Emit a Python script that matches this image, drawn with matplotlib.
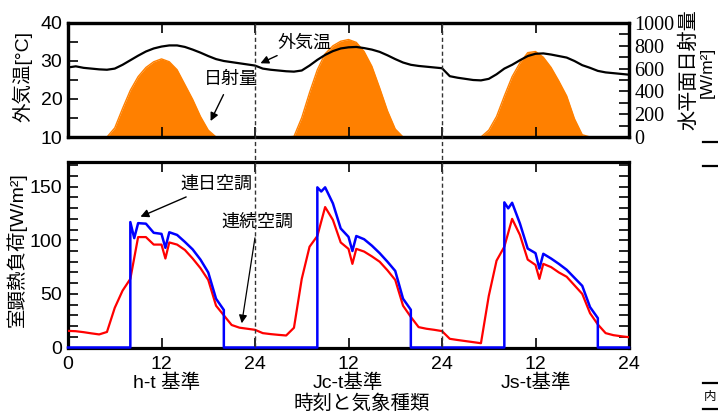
"""Outside temperature, solar radiation and room sensible load, three weather sets."""
import numpy as np
import matplotlib
matplotlib.use("Agg")
import matplotlib.pyplot as plt
import matplotlib.transforms as mtransforms
from matplotlib.lines import Line2D
from matplotlib.ticker import MultipleLocator

plt.rcParams['font.family'] = ['Liberation Sans', 'Noto Sans CJK JP', 'DejaVu Sans']

W, H = 718, 417

# hourly, 0..72 h (three 24 h weather sets side by side)
HOURS = np.arange(73)
TEMP = [28.3, 28.6, 28.2, 28.0, 27.8, 27.7, 28.0, 29.0, 30.2, 31.4, 32.5, 33.3,
        33.8, 34.1, 34.1, 33.7, 33.0, 32.2, 31.3, 30.5, 30.0, 29.7, 29.4, 29.1,
        28.8, 28.0, 27.7, 27.5, 27.3, 27.2, 27.5, 28.8, 30.3, 31.6, 32.6, 33.3,
        33.6, 33.7, 33.4, 33.0, 32.4, 31.5, 30.5, 29.6, 29.0, 28.7, 28.5, 28.3,
        28.1, 26.0, 25.6, 25.3, 25.0, 24.9, 25.3, 26.5, 28.0, 29.0, 30.2, 31.3,
        31.9, 32.0, 31.7, 31.3, 30.9, 30.0, 28.9, 28.2, 27.4, 27.0, 26.8, 26.6,
        26.4]
SOLAR = [0, 0, 0, 0, 0, 0, 80, 250, 410, 530, 610, 660,
         685, 660, 590, 460, 330, 180, 60, 0, 0, 0, 0, 0,
         0, 0, 0, 0, 0, 5, 170, 390, 590, 730, 800, 840,
         855, 830, 750, 620, 430, 230, 70, 0, 0, 0, 0, 0,
         0, 0, 0, 0, 0, 0, 60, 180, 360, 530, 650, 740,
         750, 700, 610, 490, 360, 160, 20, 0, 0, 0, 0, 0,
         0]

# continuous air conditioning (連続空調)
CONT_H = [0, 1, 2, 3, 4, 5, 6, 7, 8, 9, 10, 11, 12, 12.5, 13, 14, 15, 16, 17,
          18, 19, 20, 21, 22, 23, 24, 25, 26, 27, 28, 29, 30, 31, 32, 33, 34,
          35, 36, 36.5, 37, 38, 39, 40, 41, 42, 43, 44, 45, 46, 47, 48, 49, 50,
          51, 52, 53, 54, 55, 56, 57, 58, 59, 60, 60.5, 61, 62, 63, 64, 65, 66,
          67, 68, 69, 70, 71, 72]
CONT_V = [15.5, 15.2, 14.3, 13.2, 12.2, 14.5, 37, 53, 64, 103, 103, 96, 96, 83,
          98, 96, 91, 83, 74, 63, 39, 30, 21, 18.5, 17.5, 16.5, 13.4, 12.5,
          11.8, 11.2, 18.4, 64, 94, 104, 131, 119, 98, 92, 78, 92, 89.5, 85,
          80, 72, 63, 39, 28.5, 19, 17.5, 16.5, 15.3, 8.1, 7, 6, 5, 4, 48, 81,
          94, 120, 105, 82, 77, 64, 78, 75, 70, 66, 58, 50, 32, 21.5, 13.4,
          11.5, 10.5, 9.6]

# daily air conditioning 8-20 h (連日空調)
DAILY_H = [0, 8, 8, 8.5, 9, 10, 11, 12, 12.5, 13, 14, 15, 16, 17, 18, 19, 20, 20,
           32, 32, 32.5, 33, 34, 35, 36, 36.5, 37, 38, 39, 40, 41, 42, 43, 44, 44,
           56, 56, 56.5, 57, 58, 59, 60, 60.5, 61, 62, 63, 64, 65, 66, 67, 68, 68,
           72]
DAILY_V = [0, 0, 117, 102, 116, 115.5, 107, 106, 93, 107.5, 105, 98.5, 91.5, 82,
           70, 45.5, 35, 0,
           0, 149.4, 145.5, 149.4, 134.4, 111, 103.2, 90, 104, 101, 95, 88, 80,
           71.4, 45.5, 35.2, 0,
           0, 135.4, 129.8, 135, 115.7, 92.3, 88, 73.6, 87.4, 83, 78, 72.5, 65,
           57.5, 37.7, 27.4, 0, 0]

XTICKS = [0, 12, 24, 36, 48, 60, 72]
XTICKLABELS = ['0', '12', '24', '12', '24', '12', '24']
DAY_NAMES = ['h-t 基準', 'Jc-t基準', 'Js-t基準']
DAY_CENTERS = [12.7, 35.9, 60.1]
DAY_BOUNDS = [24, 48]

ORANGE = '#FF8000'
TICK_FS = 14


def style_axes(ax):
    for sp in ax.spines.values():
        sp.set_linewidth(2.3)
    ax.tick_params(which='both', direction='in', length=7, width=1.2,
                   labelsize=TICK_FS, pad=4)


def main():
    fig = plt.figure(figsize=(W / 100, H / 100), dpi=100)
    left, width = 68 / W, (629 - 68) / W
    ax_t = fig.add_axes([left, 1 - 137 / H, width, (137 - 23) / H])
    ax_l = fig.add_axes([left, 1 - 347.5 / H, width, (347.5 - 161.5) / H])

    # --- top: solar radiation (right) and temperature (left)
    ax_s = ax_t.twinx()
    ax_s.fill_between(HOURS, 0, SOLAR, color=ORANGE, lw=0)
    ax_s.plot(HOURS, SOLAR, color=ORANGE, lw=1.0)
    ax_s.set_ylim(0, 1000)
    ax_s.yaxis.set_major_locator(MultipleLocator(200))
    ax_s.yaxis.set_minor_locator(MultipleLocator(100))
    ax_t.set_zorder(ax_s.get_zorder() + 1)
    ax_t.patch.set_visible(False)
    ax_t.plot(HOURS, TEMP, color='black', lw=1.6)
    ax_t.set_ylim(10, 40)
    ax_t.set_xlim(0, 72)
    ax_t.yaxis.set_major_locator(MultipleLocator(10))
    ax_t.yaxis.set_minor_locator(MultipleLocator(5))
    ax_t.set_xticks(XTICKS)
    ax_t.tick_params(axis='x', top=True, labelbottom=False)
    for a in (ax_t, ax_s):
        style_axes(a)
    ax_s.tick_params(axis='y', labelsize=14.5)
    for lab in ax_s.get_yticklabels():
        lab.set_family('Liberation Serif')

    ax_t.annotate('外気温', xy=(24.7, 29.4), xytext=(30.3, 34.7),
                  ha='center', va='center', fontsize=13,
                  arrowprops=dict(arrowstyle='-|>', color='black', lw=1,
                                  shrinkA=2, shrinkB=0, mutation_scale=12))
    ax_t.annotate('日射量', xy=(18.3, 14.2), xytext=(20.9, 25.1),
                  ha='center', va='center', fontsize=13,
                  arrowprops=dict(arrowstyle='-|>', color='black', lw=1,
                                  shrinkA=3, shrinkB=0, mutation_scale=12))

    # --- bottom: sensible heat load
    ax_l.plot(CONT_H, CONT_V, color='#FF0000', lw=1.6, zorder=3)
    ax_l.plot(DAILY_H, DAILY_V, color='#0000FF', lw=1.8, zorder=4, clip_on=False)
    ax_l.set_xlim(0, 72)
    ax_l.set_ylim(0, 173.5)
    ax_l.set_xticks(XTICKS)
    ax_l.set_xticklabels(XTICKLABELS)
    ax_l.yaxis.set_major_locator(MultipleLocator(50))
    ax_l.yaxis.set_minor_locator(MultipleLocator(10))
    style_axes(ax_l)
    ax_l.tick_params(which='both', top=True, right=True)
    ax_l.tick_params(axis='x', pad=6)

    ax_l.annotate('連日空調', xy=(9.3, 122), xytext=(19.0, 152.5),
                  ha='center', va='center', fontsize=13,
                  arrowprops=dict(arrowstyle='-|>', color='black', lw=1,
                                  shrinkA=3, shrinkB=0, mutation_scale=12))
    ax_l.annotate('連続空調', xy=(22.3, 22.6), xytext=(24.3, 116.6),
                  ha='center', va='center', fontsize=13,
                  arrowprops=dict(arrowstyle='-|>', color='black', lw=0.9,
                                  shrinkA=3, shrinkB=0, mutation_scale=12))

    # day boundaries, running through both panels
    trans = mtransforms.blended_transform_factory(ax_l.transData, fig.transFigure)
    for b in DAY_BOUNDS:
        fig.add_artist(Line2D([b, b], [1 - 347 / H, 1 - 21 / H], transform=trans,
                              color='#333333', lw=1.0, ls=(0, (3, 2)), zorder=5))

    # x-axis group labels
    for name, c in zip(DAY_NAMES, DAY_CENTERS):
        ax_l.text(c, 1 - (383 - 161.5) / (347.5 - 161.5), name,
                  transform=mtransforms.blended_transform_factory(ax_l.transData, ax_l.transAxes),
                  ha='center', va='center', fontsize=14)
    fig.text(362 / W, 1 - 404 / H, '時刻と気象種類', ha='center', va='center', fontsize=14)

    # y labels
    fig.text(22 / W, 1 - 76 / H, '外気温[°C]', rotation=90, ha='center', va='center',
             fontsize=14)
    fig.text(17 / W, 1 - 250 / H, '室顕熱負荷[W/m²]', rotation=90, ha='center',
             va='center', fontsize=14)
    fig.text(689 / W, 1 - 70 / H, '水平面日射量', rotation=90, ha='center',
             va='center', fontsize=14.5)
    fig.text(707 / W, 1 - 72 / H, '[W/m²]', rotation=90, ha='center',
             va='center', fontsize=12.5)

    # cropped bits of the neighbouring figure at the right edge
    for yy in (142, 166, 383, 409):
        fig.add_artist(Line2D([703 / W, 1.0], [1 - yy / H, 1 - yy / H],
                              transform=fig.transFigure, color='black', lw=1.6))
    fig.text(704 / W, 1 - 397 / H, '内', ha='left', va='center', fontsize=9)

    fig.savefig('out.png', dpi=100)


if __name__ == '__main__':
    main()
